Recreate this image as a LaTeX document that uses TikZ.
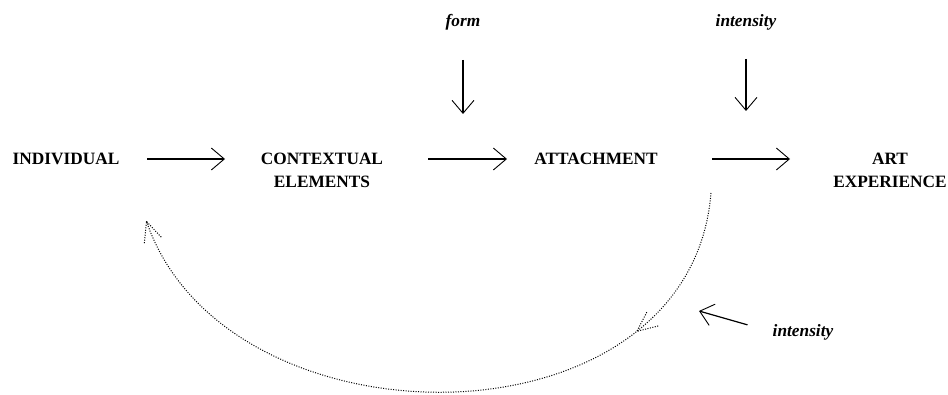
\documentclass[tikz,border=0pt]{standalone}
\usepackage{fontspec}
\setmainfont{Liberation Serif}
\usetikzlibrary{arrows.meta,decorations.markings}
\newcommand{\gross}{\fontsize{17.3}{23}\selectfont}
\newcommand{\punktkopf}{\draw[punktlinie] (-20pt,9pt) -- (0,0) -- (-20pt,-9pt);}
\tikzset{pfeil/.style={line width=1.2pt,
    -{Straight Barb[length=13pt,width=22pt,line width=0.9pt]}},
  begriff/.style={inner sep=0,font=\gross\bfseries,align=center},
  stichwort/.style={inner sep=0,font=\gross\bfseries\itshape},
  punktlinie/.style={line width=1pt,dash pattern=on 1pt off 1.5pt},
  rueckkoepfe/.style={decoration={markings,
      mark=at position 0.22 with {\punktkopf},
      mark=at position 0.998 with {\punktkopf}},postaction=decorate}}

\begin{document}
\begin{tikzpicture}[x=1pt,y=1pt]
\useasboundingbox (0,0) rectangle (948,394);
% Begriffe
\node[begriff] (indiv) at (66,235) {INDIVIDUAL};
\node[begriff] (kontext) at (322,224) {CONTEXTUAL\\ELEMENTS};
\node[begriff] (bindung) at (596,235) {ATTACHMENT};
\node[begriff] (kunst) at (890,224) {ART\\EXPERIENCE};
\node[stichwort] (form) at (463,372) {form};
\node[stichwort] (intoben) at (746,372) {intensity};
\node[stichwort] (intunten) at (803,62) {intensity};
% Pfeile der Reihe
\draw[pfeil,shorten <=81pt,shorten >=97pt] (indiv.center) -- (kontext.center |- indiv.center);
\draw[pfeil,shorten <=106pt,shorten >=89pt] (kontext.center |- bindung.center) -- (bindung.center);
\draw[pfeil,shorten <=116pt,shorten >=100pt] (bindung.center) -- (kunst.center |- bindung.center);
\draw[pfeil,shorten <=38pt,shorten >=45pt] (form.center) -- (form.center |- bindung.center);
\draw[pfeil,shorten <=37pt,shorten >=48pt] (intoben.center) -- (intoben.center |- bindung.center);
% Rueckkopplung
\coordinate (ziel) at (699,83);
\coordinate (rueckanfang) at (711,201);
\coordinate (rueckende) at (146,174);
\draw[pfeil,shorten <=26pt] (intunten.west) -- (ziel);
\draw[punktlinie,rueckkoepfe] (rueckanfang) .. controls (690,-60) and (224,-60) .. (rueckende);
\end{tikzpicture}
\end{document}
